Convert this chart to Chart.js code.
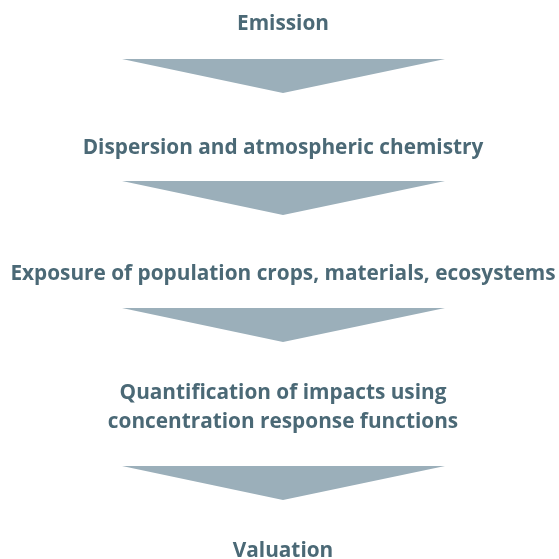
<!DOCTYPE html>
<html>
<head>
<meta charset="utf-8">
<script src="https://cdn.jsdelivr.net/npm/chart.js@4.4.0/dist/chart.umd.min.js"></script>
<style>
  html, body { margin: 0; padding: 0; background: #ffffff; }
  #flow { display: block; }
</style>
</head>
<body>
<canvas id="flow" width="559" height="559"></canvas>
<script>
// Etapas del diagrama (cada elemento es una línea de texto)
const etapas = [
    ["Emission"],
    ["Dispersion and atmospheric chemistry"],
    ["Exposure of population crops, materials, ecosystems"],
    ["Quantification of impacts using", "concentration response functions"],
    ["Valuation"]
];
// posición vertical (centro) de cada etapa, en unidades del eje y
const etapaY = [24, 148, 274, 408, 551];

// flechas entre etapas: borde superior y punta
const flechaArriba = [59, 181, 308, 466];
const flechaPunta = [93, 215, 342, 500];
const flechaIzq = 122;
const flechaDer = 445;
const centroX = 283;

const colorTexto = '#4b6976';
const colorFlecha = '#9bafba';

// Un dataset por flecha (triángulo cerrado)
const datasets = flechaArriba.map((arriba, i) => ({
    data: [
        { x: flechaIzq, y: arriba },
        { x: flechaDer, y: arriba },
        { x: centroX, y: flechaPunta[i] },
        { x: flechaIzq, y: arriba }
    ],
    backgroundColor: colorFlecha,
    borderColor: colorFlecha,
    borderWidth: 0,
    pointRadius: 0,
    tension: 0,
    fill: 'shape'
}));

// Plugin para escribir los textos de cada etapa
const textosEtapas = {
    id: 'textosEtapas',
    afterDatasetsDraw(chart) {
        const ctx = chart.ctx;
        const xs = chart.scales.x;
        const ys = chart.scales.y;
        const altoLinea = 29;
        ctx.save();
        ctx.fillStyle = colorTexto;
        ctx.font = 'bold 20.8px "Open Sans"';
        ctx.textAlign = 'center';
        ctx.textBaseline = 'middle';
        etapas.forEach((lineas, i) => {
            const y0 = etapaY[i] - (lineas.length - 1) * altoLinea / 2;
            lineas.forEach((linea, j) => {
                ctx.fillText(linea, xs.getPixelForValue(centroX), ys.getPixelForValue(y0 + j * altoLinea));
            });
        });
        ctx.restore();
    }
};

new Chart(document.getElementById('flow').getContext('2d'), {
    type: 'line',
    data: { datasets: datasets },
    options: {
        responsive: false,
        animation: false,
        layout: { padding: 0 },
        plugins: {
            legend: { display: false },
            tooltip: { enabled: false }
        },
        scales: {
            x: { type: 'linear', min: 0, max: 559, display: false },
            y: { type: 'linear', min: 0, max: 559, reverse: true, display: false }
        }
    },
    plugins: [textosEtapas]
});
</script>
</body>
</html>
